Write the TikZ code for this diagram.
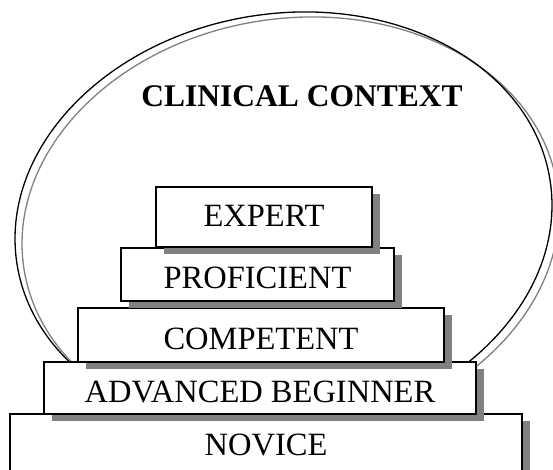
\documentclass[tikz,border=0pt]{standalone}
\usepackage{fontspec}
\setmainfont{Liberation Serif}
\usetikzlibrary{shadows}
\definecolor{shadowgray}{RGB}{128,128,128}
\begin{document}
\begin{tikzpicture}[x=1pt,y=1pt,
  tier/.style={draw, line width=1.6pt, fill=white, inner sep=0pt, outer sep=0pt,
    anchor=south west,
    drop shadow={shadow xshift=8pt, shadow yshift=-7pt, fill=shadowgray, opacity=1}},
  lbl/.style={anchor=base, inner sep=0pt, font=\fontsize{32.5}{38}\selectfont},
  titlelbl/.style={anchor=base, inner sep=0pt, font=\bfseries\fontsize{31.5}{36}\selectfont},
  ringline/.style={line width=1.3pt},
  ]
\useasboundingbox (0,0) rectangle (553,469);
\clip (0,0) rectangle (553,469);
% context ellipse and its grey shadow line
\coordinate (c) at (283.5,247);
\coordinate (cs) at (290.5,242);
\draw[ringline, shadowgray, rotate around={9:(cs)}] (cs) ellipse [x radius=269.8, y radius=208.3];
\draw[ringline, black, rotate around={9:(c)}] (c) ellipse [x radius=269.8, y radius=208.3];
\node[titlelbl] (title) at (302,362.5) {CLINICAL CONTEXT};
% tiers, bottom to top
\node[tier, minimum width=512, minimum height=80] (novice) at (10,-25) {};
\node[lbl] (tnovice) at (266,14) {NOVICE};
\node[tier, minimum width=432, minimum height=52] (advanced) at (44,55) {};
\node[lbl] (tadvanced) at (260,66.5) {ADVANCED BEGINNER};
\node[tier, minimum width=366, minimum height=54] (competent) at (78,107) {};
\node[lbl] (tcompetent) at (261,119.5) {COMPETENT};
\node[tier, minimum width=273, minimum height=53] (proficient) at (121,168) {};
\node[lbl] (tproficient) at (257.5,180.7) {PROFICIENT};
\node[tier, minimum width=216, minimum height=60] (expert) at (156,222) {};
\node[lbl] (texpert) at (264,242.3) {EXPERT};
\end{tikzpicture}
\end{document}
